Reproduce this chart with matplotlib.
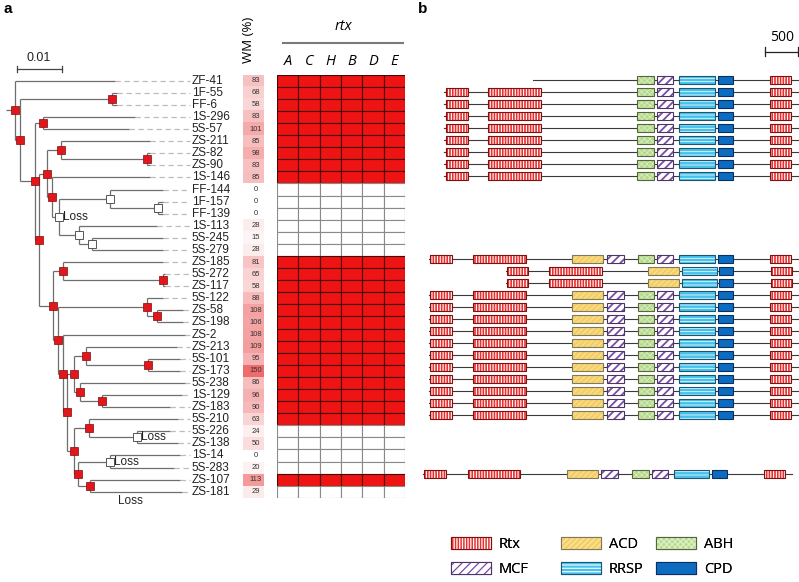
import numpy as np
import matplotlib
matplotlib.use('Agg')
import matplotlib.pyplot as plt
from matplotlib.patches import Rectangle
from matplotlib.legend_handler import HandlerTuple
from matplotlib.colors import LinearSegmentedColormap

plt.rcParams['font.family'] = ['Liberation Sans', 'DejaVu Sans']
plt.rcParams['hatch.linewidth'] = 0.9

# ---- data ----
strains = ['ZF-41', '1F-55', 'FF-6', '1S-296', '5S-57', 'ZS-211', 'ZS-82', 'ZS-90',
           '1S-146', 'FF-144', '1F-157', 'FF-139', '1S-113', '5S-245', '5S-279',
           'ZS-185', '5S-272', 'ZS-117', '5S-122', 'ZS-58', 'ZS-198', 'ZS-2',
           'ZS-213', '5S-101', 'ZS-173', '5S-238', '1S-129', 'ZS-183', '5S-210',
           '5S-226', 'ZS-138', '1S-14', '5S-283', 'ZS-107', 'ZS-181']
wm = [83, 68, 58, 83, 101, 85, 98, 83, 85, 0, 0, 0, 28, 15, 28,
      81, 65, 58, 88, 108, 106, 108, 109, 95, 150, 86, 96, 90, 63,
      24, 50, 0, 20, 113, 29]
rtx_genes = ['A', 'C', 'H', 'B', 'D', 'E']
rtx_present = [1, 1, 1, 1, 1, 1, 1, 1, 1, 0, 0, 0, 0, 0, 0,
               1, 1, 1, 1, 1, 1, 1, 1, 1, 1, 1, 1, 1, 1,
               0, 0, 0, 0, 1, 0]

# tree: (name, branch length, [children]) ; leaves: (name, branch length)
loss_clade = ('loss1', 0.0017, [
    ('w1', 0.0113, [('FF-144', 0.0118), ('w2', 0.0107, [('1F-157', 0.0010), ('FF-139', 0.0010)])]),
    ('w3', 0.0044, [('1S-113', 0.0173), ('w4', 0.0028, [('5S-245', 0.0158), ('5S-279', 0.0158)])])])
clade_c1 = ('c1', 0.0017, [
    ('c2', 0.0031, [('ZS-211', 0.0198), ('c3', 0.0190, [('ZS-82', 0.0007), ('ZS-90', 0.0007)])]),
    ('c4', 0.0010, [('1S-146', 0.0218), loss_clade])])
d9 = ('d9', 0.0016, [
    ('d10', 0.0027, [('ZS-213', 0.0202), ('d11', 0.0137, [('5S-101', 0.0072), ('ZS-173', 0.0072)])]),
    ('d12', 0.0013, [('5S-238', 0.0233), ('d13', 0.0048, [('1S-129', 0.0178), ('ZS-183', 0.0152)])])])
d14 = ('d14', 0.0015, [
    ('d15', 0.0035, [('5S-210', 0.0196), ('loss2', 0.0106, [('5S-226', 0.0074), ('ZS-138', 0.0090)])]),
    ('d16', 0.0010, [('loss3', 0.0070, [('1S-14', 0.0157), ('5S-283', 0.0142)]),
                     ('d17', 0.0027, [('ZS-107', 0.0200), ('ZS-181', 0.0204)])])])
d1 = ('d1', 0.0029, [
    ('d2', 0.0024, [('ZS-185', 0.0222), ('d3', 0.0221, [('5S-272', 0.0005), ('ZS-117', 0.0005)])]),
    ('d4', 0.0012, [
        ('d5', 0.0198, [('5S-122', 0.0036), ('d6', 0.0023, [('ZS-58', 0.0057), ('ZS-198', 0.0057)])]),
        ('d7', 0.0011, [('ZS-2', 0.0272), ('d8', 0.0009, [d9, d14])])])])
tree = ('root', 0.0019, [
    ('ZF-41', 0.0223),
    ('n1', 0.0012, [
        ('n1a', 0.0204, [('1F-55', 0.0011), ('FF-6', 0.0011)]),
        ('n2', 0.0033, [
            ('n2a', 0.0018, [('1S-296', 0.0205), ('5S-57', 0.0190)]),
            ('n3', 0.0010, [clade_c1, d1])])])])
white_nodes = ['loss1', 'w1', 'w2', 'w3', 'w4', 'loss2', 'loss3']
loss_nodes = ['loss1', 'loss2', 'loss3']

# domain architectures (aa, from protein start)
archs = {
    'A1': ((0, 5359), [('Rtx', 26, 355), ('Rtx', 667, 1465), ('ABH', 2924, 3182), ('MCF', 3227, 3469),
                       ('RRSP', 3560, 4101), ('CPD', 4142, 4369), ('Rtx', 4934, 5248)]),
    'A1t': ((1348, 5359), [('ABH', 2924, 3182), ('MCF', 3227, 3469),
                           ('RRSP', 3560, 4101), ('CPD', 4142, 4369), ('Rtx', 4934, 5248)]),
    'A2': ((0, 5590), [('Rtx', 15, 344), ('Rtx', 671, 1465), ('ACD', 2171, 2641), ('MCF', 2692, 2954),
                       ('ABH', 3162, 3413), ('MCF', 3459, 3701), ('RRSP', 3792, 4333),
                       ('CPD', 4374, 4601), ('Rtx', 5166, 5480)]),
    'A3': ((0, 4428), [('Rtx', 15, 342), ('Rtx', 661, 1464), ('ACD', 2151, 2630), ('RRSP', 2666, 3197),
                       ('CPD', 3236, 3448), ('Rtx', 4019, 4333)]),
}
# strain -> (architecture, offset in aa)
rtx_arch = {'ZF-41': ('A1t', 444), '1F-55': ('A1', 444), 'FF-6': ('A1', 444), '1S-296': ('A1', 444),
            '5S-57': ('A1', 444), 'ZS-211': ('A1', 444), 'ZS-82': ('A1', 444), 'ZS-90': ('A1', 444),
            '1S-146': ('A1', 444), 'ZS-185': ('A2', 212), '5S-272': ('A3', 1374), 'ZS-117': ('A3', 1374),
            '5S-122': ('A2', 212), 'ZS-58': ('A2', 212), 'ZS-198': ('A2', 212), 'ZS-2': ('A2', 212),
            'ZS-213': ('A2', 212), '5S-101': ('A2', 212), 'ZS-173': ('A2', 212), '5S-238': ('A2', 212),
            '1S-129': ('A2', 212), 'ZS-183': ('A2', 212), '5S-210': ('A2', 212), 'ZS-107': ('A2', 126)}

styles = {
    'Rtx': dict(fc='#ea2f2f', hc='white', hatch='||||||', hlw=0.8, ec='#7a1212'),
    'ACD': dict(fc='#f5cf66', hc='#fbe7a6', hatch='//////', hlw=0.6, ec='#807a5c'),
    'MCF': dict(fc='white', hc='#7a4ca6', hatch='////', hlw=1.3, ec='#4a3566'),
    'ABH': dict(fc='#b6da8c', hc='#dcefc6', hatch='xxxxxx', hlw=0.5, ec='#55663f'),
    'RRSP': dict(fc='#45c1ec', hc='#e8f8ff', hatch='-----', hlw=0.6, ec='#1e5570'),
    'CPD': dict(fc='#0b6cc0', hc='#0b6cc0', hatch=None, hlw=0.5, ec='#0b3060'),
}

W, H = 799, 582
fig = plt.figure(figsize=(W / 100, H / 100), dpi=100)


def px_axes(x0, y0, x1, y1):
    return fig.add_axes([x0 / W, 1 - y1 / H, (x1 - x0) / W, (y1 - y0) / H])


row_top, row_bot = 74.65, 497.8   # px extent of the 35 rows in panel a

# ---- tree ----
ta = px_axes(0, 40, 240, 510)
ta.set_xlim(-14.7 / 4500, 225.3 / 4500)
ta.set_ylim((510 - 80.7) / 12.09, (40 - 80.7) / 12.09)
ta.axis('off')
dash_end = 0.0390
branch_kw = dict(color='#6e6e6e', lw=0.9, solid_capstyle='butt')
nodes = {}


def draw(node, xp):
    name, bl = node[0], node[1]
    x = xp + bl
    if len(node) == 2:
        y = strains.index(name)
        ta.plot([x, dash_end], [y, y], color='#bdbdbd', lw=0.9, dashes=(4.3, 2.9))
        ta.text(dash_end + 0.0003, y, name, ha='left', va='center', fontsize=8.5, color='#222222')
    else:
        ys = [draw(c, x) for c in node[2]]
        y = (min(ys) + max(ys)) / 2
        ta.plot([x, x], [min(ys), max(ys)], **branch_kw)
        nodes[name] = (x, y)
    ta.plot([xp, x], [y, y], **branch_kw)
    return y


draw(tree, -tree[1])
for name, (x, y) in nodes.items():
    if name in white_nodes:
        ta.plot(x, y, 's', ms=5.2, mfc='white', mec='#555555', mew=0.7, zorder=5)
    else:
        ta.plot(x, y, 's', ms=5.2, mfc='#e3171b', mec='#7a0d0d', mew=0.5, zorder=5)
for name in loss_nodes:
    ta.annotate('Loss', nodes[name], xytext=(3, 0), textcoords='offset points',
                ha='left', va='center', fontsize=8.5, color='#222222')
ta.annotate('Loss', (nodes['d17'][0], strains.index('ZS-181')), xytext=(20, -7),
            textcoords='offset points', ha='left', va='center', fontsize=8.5, color='#222222')
# scale bar
ybar = (69.3 - 80.7) / 12.09
ta.plot([0.0004, 0.0104], [ybar, ybar], color='#444444', lw=0.9)
for xb in (0.0004, 0.0104):
    ta.plot([xb, xb], [ybar - 0.25, ybar + 0.25], color='#444444', lw=0.9)
ta.annotate('0.01', (0.0054, ybar), xytext=(0, 4), textcoords='offset points',
            ha='center', va='bottom', fontsize=9, color='#222222')

# ---- WM column ----
wa = px_axes(243, row_top, 264, row_bot)
wm_cmap = LinearSegmentedColormap.from_list('wm', ['#ffffff', '#f9cccc', '#ee6c6c'])
wa.imshow(np.array(wm)[:, None], cmap=wm_cmap, vmin=0, vmax=150, aspect='auto',
          extent=(0, 1, len(strains) - 0.5, -0.5))
for i, v in enumerate(wm):
    wa.text(0.6, i, str(v), ha='center', va='center', fontsize=5.5, color='#333333')
wa.set_xlim(0, 1)
wa.set_ylim(len(strains) - 0.5, -0.5)
wa.axis('off')
fig.text(249 / W, 1 - 40 / H, 'WM (%)', rotation=90, ha='center', va='center',
         fontsize=9.5, family=['Open Sans', 'DejaVu Sans'])

# ---- rtx presence grid ----
ha = px_axes(277, row_top, 405, row_bot)
rows = np.arange(len(strains))
cell_colors = ['#ee1414' if p else 'white' for p in rtx_present]
cell_edges = ['#4a0606' if p else '#8a8a8a' for p in rtx_present]
for j in range(len(rtx_genes)):
    ha.barh(rows, 1, left=j, height=1, color=cell_colors, edgecolor=cell_edges, linewidth=0.8)
ha.set_xlim(0, len(rtx_genes))
ha.set_ylim(len(strains) - 0.5, -0.5)
ha.xaxis.tick_top()
ha.set_xticks(np.arange(len(rtx_genes)) + 0.5)
ha.set_xticklabels(rtx_genes, fontsize=10.5, style='italic', family=['Open Sans', 'DejaVu Sans'])
ha.tick_params(length=0, pad=4)
ha.set_yticks([])
for s in ha.spines.values():
    s.set_visible(False)
fig.text(343 / W, 1 - 27 / H, 'rtx', ha='center', va='center', fontsize=10.5, style='italic',
         family=['Open Sans', 'DejaVu Sans'])
fig.add_artist(plt.Line2D([283 / W, 403 / W], [1 - 43 / H, 1 - 43 / H], color='#7a7a7a', lw=1.5))

# ---- panel b: domain architecture ----
ba = px_axes(415, 40, 799, 510)
aa_per_px = 15.15
ba.set_xlim(0, 384 * aa_per_px)
ba.set_ylim((510 - 80) / 11.95, (40 - 80) / 11.95)
ba.axis('off')
box_h = 0.68


def domain_patches(x0, y0, w, h, st):
    fill = Rectangle((x0, y0), w, h, facecolor=st['fc'], edgecolor=st['hc'], hatch=st['hatch'], lw=0)
    if hasattr(fill, 'set_hatch_linewidth'):
        fill.set_hatch_linewidth(st['hlw'])
    edge = Rectangle((x0, y0), w, h, fill=False, edgecolor=st['ec'], lw=0.8)
    return fill, edge


for i, s in enumerate(strains):
    if s not in rtx_arch:
        continue
    arch, off = rtx_arch[s]
    (b0, b1), parts = archs[arch]
    ba.plot([off + b0, off + b1], [i, i], color='#3a3a3a', lw=0.8, zorder=1)
    for dom, d0, d1_ in parts:
        for p in domain_patches(off + d0, i - box_h / 2, d1_ - d0, box_h, styles[dom]):
            p.set_zorder(2)
            ba.add_patch(p)

# scale bar 500 aa
ys = (51.7 - 80) / 11.95
xs0 = (765.3 - 415) * aa_per_px
ba.plot([xs0, xs0 + 500], [ys, ys], color='#222222', lw=0.9, clip_on=False)
for xb in (xs0, xs0 + 500):
    ba.plot([xb, xb], [ys - 0.4, ys + 0.4], color='#222222', lw=0.9, clip_on=False)
ba.annotate('500', (xs0 + 250, ys), xytext=(0, 5), textcoords='offset points', ha='center',
            va='bottom', fontsize=10, family=['Open Sans', 'DejaVu Sans'], annotation_clip=False)

# legend: three columns
leg_cols = [(['Rtx', 'MCF'], 450.7), (['ACD', 'RRSP'], 560.7), (['ABH', 'CPD'], 655.7)]
for names, xl in leg_cols:
    handles = [domain_patches(0, 0, 1, 1, styles[n]) for n in names]
    leg = fig.legend(handles, names, handler_map={tuple: HandlerTuple(ndivide=1)},
                     loc='upper left', bbox_to_anchor=(xl / W, 1 - 537 / H), frameon=False,
                     borderpad=0, borderaxespad=0, handlelength=2.75,
                     handleheight=0.9, handletextpad=0.55, labelspacing=0.65,
                     prop={'family': ['Open Sans', 'DejaVu Sans'], 'size': 10.5})
    fig.add_artist(leg)

# panel letters
fig.text(4 / W, 1 - 9 / H, 'a', fontsize=11, fontweight='bold', va='center', ha='left')
fig.text(418 / W, 1 - 9 / H, 'b', fontsize=11, fontweight='bold', va='center', ha='left')

fig.savefig('out.png', dpi=100)
